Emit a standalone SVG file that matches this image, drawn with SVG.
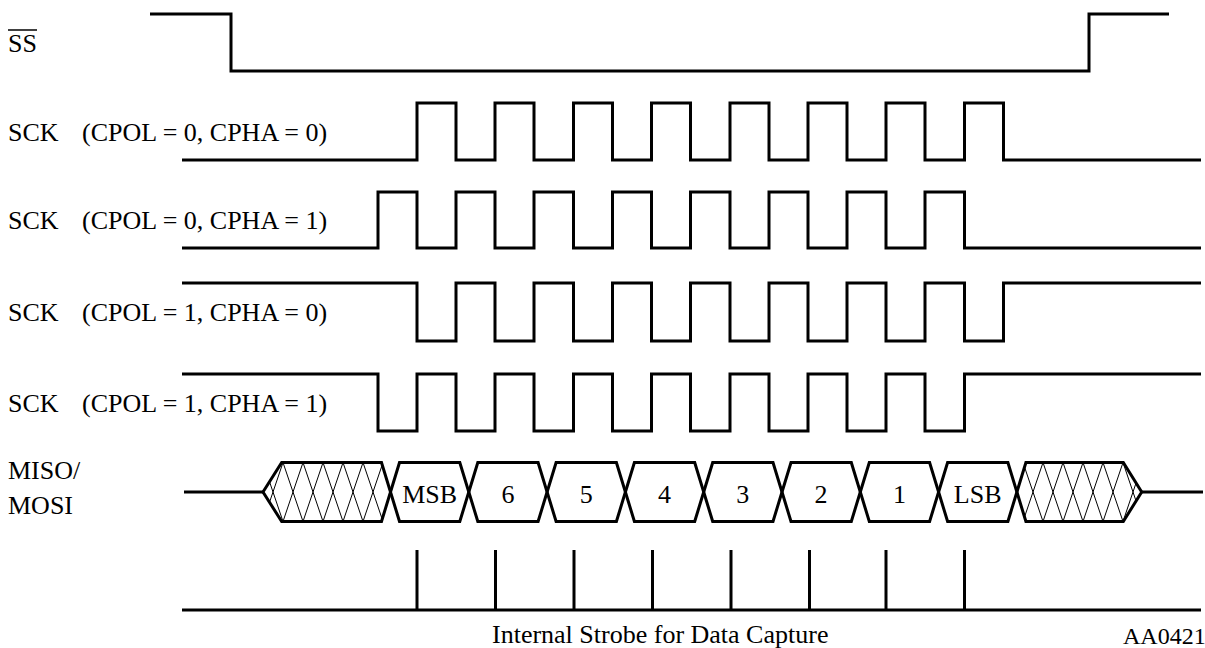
<svg xmlns="http://www.w3.org/2000/svg" width="1205" height="648" viewBox="0 0 1205 648">
<style>
.w{fill:none;stroke:#000;stroke-width:3;stroke-linejoin:miter;stroke-linecap:butt}
.h{fill:none;stroke:#000;stroke-width:1}
.t{font-family:"Liberation Serif","Times New Roman",serif;font-size:26px;fill:#000}
.c{text-anchor:middle}
</style>
<defs>
<clipPath id="cl"><polygon points="263,492 281.7,462.5 381.5,462.5 390.5,492 381.5,521.5 281.7,521.5"/></clipPath>
<clipPath id="cr"><polygon points="1016.9,492 1025.9,462.5 1123.3,462.5 1141.7,492 1123.3,521.5 1025.9,521.5"/></clipPath>
</defs>
<rect width="1205" height="648" fill="#fff"/>
<g id="labels">
<text class="t" x="8" y="52">SS</text>
<line x1="8" y1="30" x2="37" y2="30" stroke="#000" stroke-width="1.5"/>
<text class="t" x="8" y="140.5">SCK</text><text class="t" x="82" y="140.5">(CPOL = 0, CPHA = 0)</text>
<text class="t" x="8" y="229">SCK</text><text class="t" x="82" y="229">(CPOL = 0, CPHA = 1)</text>
<text class="t" x="8" y="321">SCK</text><text class="t" x="82" y="321">(CPOL = 1, CPHA = 0)</text>
<text class="t" x="8" y="411.5">SCK</text><text class="t" x="82" y="411.5">(CPOL = 1, CPHA = 1)</text>
<text class="t" x="8" y="479">MISO/</text>
<text class="t" x="8" y="514">MOSI</text>
<text class="t" x="492" y="643">Internal Strobe for Data Capture</text>
<text class="t" x="1123" y="644" style="font-size:24px">AA0421</text>
</g>
<g id="ss"><path class="w" d="M150,14 H231 V71 H1089 V14 H1169"/></g>
<g id="sck1"><path class="w" d="M182,160 H417 V103 H456 V160 H495 V103 H534 V160 H573.5 V103 H612.5 V160 H651.5 V103 H690.5 V160 H730 V103 H769 V160 H808 V103 H847 V160 H886 V103 H925 V160 H964.5 V103 H1003.5 V160 H1201"/></g>
<g id="sck2"><path class="w" d="M182,248 H378 V192 H417 V248 H456 V192 H495 V248 H534 V192 H573.5 V248 H612.5 V192 H651.5 V248 H690.5 V192 H730 V248 H769 V192 H808 V248 H847 V192 H886 V248 H925 V192 H964.5 V248 H1201"/></g>
<g id="sck3"><path class="w" d="M182,283 H417 V341 H456 V283 H495 V341 H534 V283 H573.5 V341 H612.5 V283 H651.5 V341 H690.5 V283 H730 V341 H769 V283 H808 V341 H847 V283 H886 V341 H925 V283 H964.5 V341 H1003.5 V283 H1201"/></g>
<g id="sck4"><path class="w" d="M182,374 H378 V431 H417 V374 H456 V431 H495 V374 H534 V431 H573.5 V374 H612.5 V431 H651.5 V374 H690.5 V431 H730 V374 H769 V431 H808 V374 H847 V431 H886 V374 H925 V431 H964.5 V374 H1201"/></g>
<g id="data">
<g clip-path="url(#cl)" class="h">
<path d="M243,521.5 L263,462.5 M263,521.5 L283,462.5 M283,521.5 L303,462.5 M303,521.5 L323,462.5 M323,521.5 L343,462.5 M343,521.5 L363,462.5 M363,521.5 L383,462.5 M383,521.5 L403,462.5 M243,462.5 L263,521.5 M263,462.5 L283,521.5 M283,462.5 L303,521.5 M303,462.5 L323,521.5 M323,462.5 L343,521.5 M343,462.5 L363,521.5 M363,462.5 L383,521.5 M383,462.5 L403,521.5"/>
</g>
<g clip-path="url(#cr)" class="h">
<path d="M1003,521.5 L1023,462.5 M1023,521.5 L1043,462.5 M1043,521.5 L1063,462.5 M1063,521.5 L1083,462.5 M1083,521.5 L1103,462.5 M1103,521.5 L1123,462.5 M1123,521.5 L1143,462.5 M1003,462.5 L1023,521.5 M1023,462.5 L1043,521.5 M1043,462.5 L1063,521.5 M1063,462.5 L1083,521.5 M1083,462.5 L1103,521.5 M1103,462.5 L1123,521.5 M1123,462.5 L1143,521.5"/>
</g>
<path class="w" d="M184,492 H263 M1141.7,492 H1203"/>
<polygon class="w" points="263,492 281.7,462.5 381.5,462.5 390.5,492 381.5,521.5 281.7,521.5"/>
<polygon class="w" points="390.5,492 399.5,462.5 459.8,462.5 468.8,492 459.8,521.5 399.5,521.5"/>
<polygon class="w" points="468.8,492 477.8,462.5 538.1,462.5 547.1,492 538.1,521.5 477.8,521.5"/>
<polygon class="w" points="547.1,492 556.1,462.5 616.4,462.5 625.4,492 616.4,521.5 556.1,521.5"/>
<polygon class="w" points="625.4,492 634.4,462.5 694.7,462.5 703.7,492 694.7,521.5 634.4,521.5"/>
<polygon class="w" points="703.7,492 712.7,462.5 773,462.5 782,492 773,521.5 712.7,521.5"/>
<polygon class="w" points="782,492 791,462.5 851.3,462.5 860.3,492 851.3,521.5 791,521.5"/>
<polygon class="w" points="860.3,492 869.3,462.5 929.6,462.5 938.6,492 929.6,521.5 869.3,521.5"/>
<polygon class="w" points="938.6,492 947.6,462.5 1007.9,462.5 1016.9,492 1007.9,521.5 947.6,521.5"/>
<polygon class="w" points="1016.9,492 1025.9,462.5 1123.3,462.5 1141.7,492 1123.3,521.5 1025.9,521.5"/>
<text class="t c" x="429.6" y="502.5">MSB</text>
<text class="t c" x="507.9" y="502.5">6</text>
<text class="t c" x="586.2" y="502.5">5</text>
<text class="t c" x="664.5" y="502.5">4</text>
<text class="t c" x="742.8" y="502.5">3</text>
<text class="t c" x="821.1" y="502.5">2</text>
<text class="t c" x="899.4" y="502.5">1</text>
<text class="t c" x="977.7" y="502.5">LSB</text>
</g>
<g id="strobe"><path class="w" d="M182,610 H1201 M417,550 V610 M495.5,550 V610 M574,550 V610 M652.5,550 V610 M731,550 V610 M809.5,550 V610 M886,550 V610 M964.5,550 V610"/></g>
</svg>
